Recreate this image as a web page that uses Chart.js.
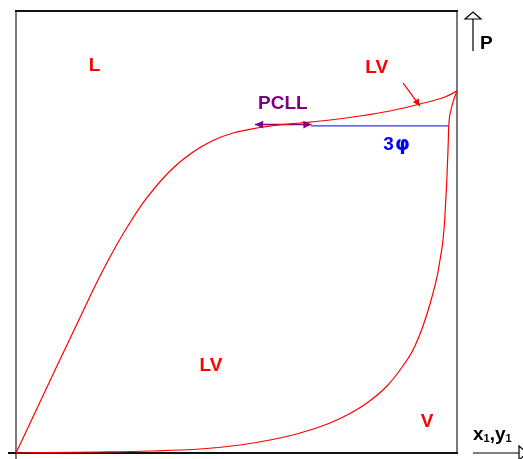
<!DOCTYPE html>
<meta charset="utf-8">
<head>
  <title>Phase diagram</title>
  <style>
    html, body { margin: 0; padding: 0; background: #fff; }
    .container { width: 523px; height: 459px; }
  </style>
</head>
<body>
  <div class="container">
    <canvas id="chart" width="523" height="459"></canvas>
  </div>
<script src="https://cdn.jsdelivr.net/npm/chart.js@4"></script>
<script>
  // composition (0-100) and pressure (0-100)
  var bubble_x = [0, 9.07, 15.65, 18.82, 22.68, 26.08, 29.48, 34.92, 40.14, 44.67, 49.21, 55.33, 58.73, 64.40, 71.20, 78.00, 84.81, 91.61, 97.28, 100];
  var bubble_y = [0, 19.23, 33.03, 39.59, 46.83, 52.49, 57.47, 63.80, 68.10, 70.70, 72.40, 73.64, 74.14, 74.66, 75.34, 76.24, 77.38, 78.96, 80.54, 81.90];
  var dew_x = [0, 19.05, 30.39, 41.72, 50.79, 57.60, 64.40, 71.20, 75.51, 79.59, 84.13, 87.07, 90.02, 92.29, 93.88, 95.46, 96.15, 96.83, 97.28, 97.66, 97.96, 98.14, 98.64, 99.32, 100];
  var dew_y = [0, 0.23, 0.45, 0.90, 1.81, 2.94, 4.52, 6.79, 8.82, 11.31, 15.16, 18.78, 23.30, 28.73, 33.71, 39.82, 43.67, 48.19, 53.85, 61.09, 68.55, 73.98, 77.60, 80.09, 81.90];
  var three_phase_x = [66.9, 98.2];
  var three_phase_y = [74.0, 74.0];
  var pcll_x = [54.2, 67.0];
  var pcll_y = [74.3, 74.3];
  var lv_arrow_x = [87.8, 91.6];
  var lv_arrow_y = [83.7, 78.5];

  function pts(xs, ys) {
    var out = [];
    for (var i = 0; i < xs.length; i++) out.push({x: xs[i], y: ys[i]});
    return out;
  }

  function arrowHead(ctx, x1, y1, x2, y2, size, color) {
    var a = Math.atan2(y2 - y1, x2 - x1);
    ctx.save();
    ctx.fillStyle = color;
    ctx.beginPath();
    ctx.moveTo(x2, y2);
    ctx.lineTo(x2 - size * Math.cos(a - 0.45), y2 - size * Math.sin(a - 0.45));
    ctx.lineTo(x2 - size * Math.cos(a + 0.45), y2 - size * Math.sin(a + 0.45));
    ctx.closePath();
    ctx.fill();
    ctx.restore();
  }

  var decor = {
    id: 'decor',
    beforeDatasetsDraw: function(chart) {
      var ctx = chart.ctx, a = chart.chartArea;
      ctx.save();
      ctx.lineWidth = 2;
      ctx.strokeStyle = '#7a7a7a';
      ctx.beginPath();
      ctx.moveTo(a.left, a.top); ctx.lineTo(a.left, a.bottom + 6);
      ctx.moveTo(a.right, a.top); ctx.lineTo(a.right, a.bottom);
      ctx.stroke();
      ctx.strokeStyle = '#111';
      ctx.beginPath();
      ctx.moveTo(a.left - 1, a.top); ctx.lineTo(a.right + 1, a.top);
      ctx.moveTo(a.left - 8, a.bottom); ctx.lineTo(a.right + 1, a.bottom);
      ctx.stroke();
      ctx.restore();
    },
    afterDatasetsDraw: function(chart) {
      var ctx = chart.ctx, a = chart.chartArea;
      var sx = chart.scales.x, sy = chart.scales.y;
      function X(v) { return sx.getPixelForValue(v); }
      function Y(v) { return sy.getPixelForValue(v); }
      var bold = 'bold 19px "Liberation Sans", Arial, sans-serif';

      // arrow heads
      arrowHead(ctx, X(pcll_x[1]), Y(pcll_y[1]), X(pcll_x[0]), Y(pcll_y[0]), 9, '#800080');
      arrowHead(ctx, X(pcll_x[0]), Y(pcll_y[0]), X(pcll_x[1]), Y(pcll_y[1]), 9, '#800080');
      arrowHead(ctx, X(lv_arrow_x[0]), Y(lv_arrow_y[0]), X(lv_arrow_x[1]), Y(lv_arrow_y[1]), 8, '#ff0000');

      ctx.save();
      ctx.textAlign = 'center';
      ctx.textBaseline = 'alphabetic';
      ctx.font = bold;
      ctx.fillStyle = '#ff0000';
      ctx.fillText('L', X(17.8), Y(86.4));
      ctx.fillText('LV', X(81.8), Y(85.9));
      ctx.fillText('LV', X(44.2), Y(18.5));
      ctx.fillText('V', X(93.2), Y(5.8));
      ctx.fillStyle = '#800080';
      ctx.fillText('PCLL', X(60.5), Y(77.8));

      // 3 phase label
      ctx.fillStyle = '#0000ff';
      ctx.textAlign = 'left';
      var t3 = X(86.7) - 15, ty3 = Y(68.5);
      ctx.fillText('3', t3, ty3);
      t3 += ctx.measureText('3').width;
      ctx.font = 'bold 19px "DejaVu Sans", sans-serif';
      ctx.fillText('\u03c6', t3 + 1, ty3);

      // P axis arrow
      var px = a.right + 16;
      ctx.strokeStyle = '#000';
      ctx.lineWidth = 1.2;
      ctx.beginPath();
      ctx.moveTo(px, a.top + 40); ctx.lineTo(px, a.top + 8);
      ctx.moveTo(px - 8, a.top + 8); ctx.lineTo(px, a.top + 1); ctx.lineTo(px + 8, a.top + 8); ctx.closePath();
      ctx.stroke();
      ctx.fillStyle = '#000';
      ctx.font = bold;
      ctx.fillText('P', px + 7, a.top + 38);

      // x axis arrow
      ctx.beginPath();
      ctx.moveTo(a.right + 16, a.bottom); ctx.lineTo(a.right + 62, a.bottom);
      ctx.moveTo(a.right + 62, a.bottom - 7); ctx.lineTo(a.right + 70, a.bottom); ctx.lineTo(a.right + 62, a.bottom + 7); ctx.closePath();
      ctx.stroke();
      var tx = a.right + 16, ty = a.bottom - 13;
      ctx.fillText('x', tx, ty); tx += ctx.measureText('x').width;
      ctx.font = 'bold 11px "Liberation Sans", Arial, sans-serif';
      ctx.fillText('1', tx, ty + 2); tx += ctx.measureText('1').width;
      ctx.font = bold;
      ctx.fillText(',', tx, ty); tx += ctx.measureText(',').width;
      ctx.fillText('y', tx, ty); tx += ctx.measureText('y').width;
      ctx.font = 'bold 11px "Liberation Sans", Arial, sans-serif';
      ctx.fillText('1', tx, ty + 2);
      ctx.restore();
    }
  };

  var chart = new Chart('chart', {
    type: 'scatter',
    data: {
      datasets: [
        { data: pts(bubble_x, bubble_y), showLine: true, borderColor: '#ff0000', borderWidth: 1.2, pointRadius: 0, cubicInterpolationMode: 'monotone', clip: false },
        { data: pts(dew_x, dew_y), showLine: true, borderColor: '#ff0000', borderWidth: 1.2, pointRadius: 0, cubicInterpolationMode: 'monotone', clip: false },
        { data: pts(three_phase_x, three_phase_y), showLine: true, borderColor: '#3333ff', borderWidth: 1.2, pointRadius: 0, clip: false },
        { data: pts(pcll_x, pcll_y), showLine: true, borderColor: '#800080', borderWidth: 1.5, pointRadius: 0, clip: false },
        { data: pts(lv_arrow_x, lv_arrow_y), showLine: true, borderColor: '#ff0000', borderWidth: 1.2, pointRadius: 0, clip: false }
      ]
    },
    options: {
      responsive: false,
      animation: false,
      layout: { padding: { left: 16, right: 66, top: 11, bottom: 6 } },
      plugins: { legend: { display: false }, tooltip: { enabled: false } },
      scales: {
        x: { type: 'linear', min: 0, max: 100, display: false },
        y: { type: 'linear', min: 0, max: 100, display: false }
      }
    },
    plugins: [decor]
  });
</script>
</body>
</html>
